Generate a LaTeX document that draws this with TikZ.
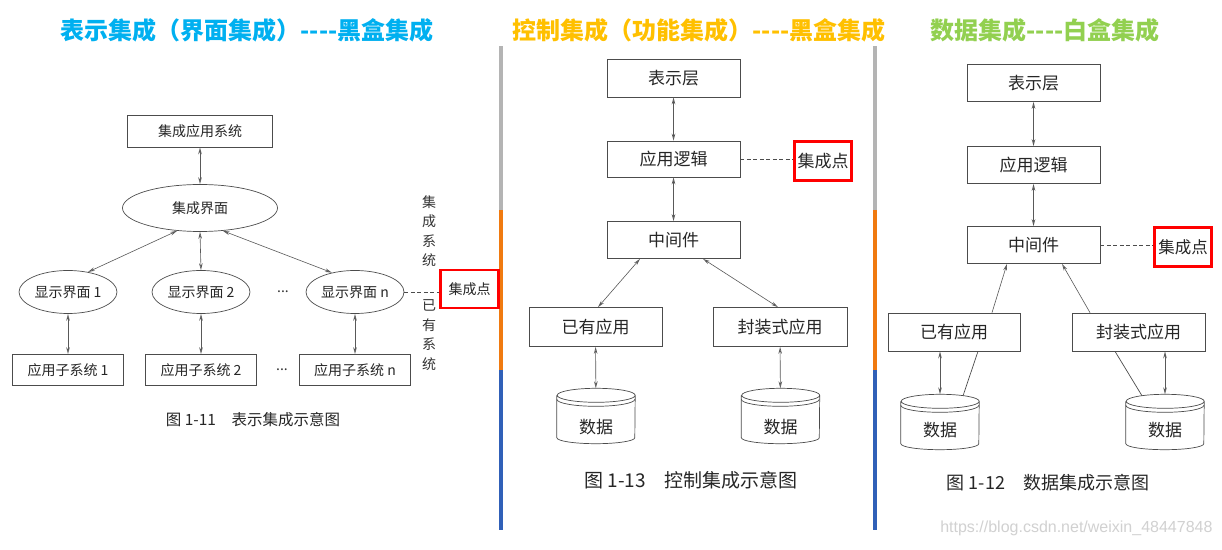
\documentclass[tikz,border=0pt]{standalone}
\usepackage{fontspec}
\newfontfamily\cjk{Noto Sans CJK SC}
\newfontfamily\wmfont{Liberation Sans}
\usetikzlibrary{positioning, arrows.meta, shapes.geometric}
\usepackage{xcolor}
\definecolor{titleblue}{HTML}{00B0F0}
\definecolor{titleorange}{HTML}{FFC000}
\definecolor{titlegreen}{HTML}{92D050}
\definecolor{bargray}{HTML}{B4B4B4}
\definecolor{barorange}{HTML}{F07A10}
\definecolor{barblue}{HTML}{3060B8}
\newcommand\setfs[1]{\fontsize{#1}{#1}\selectfont}

\begin{document}
\begin{tikzpicture}[x=1pt, y=1pt,
  line/.style={draw=black!70, line width=0.7pt},
  box/.style={line, minimum width=133pt, minimum height=37pt, inner sep=0pt, text=black!85, font=\cjk\setfs{17}},
  lbox/.style={box, minimum width=111pt, minimum height=31pt, font=\cjk\setfs{14}},
  ell/.style={line, ellipse, minimum width=98pt, minimum height=43pt, inner sep=0pt, text=black!85, font=\cjk\setfs{14}},
  redbox/.style={draw=red, line width=2.6pt, minimum width=57pt, minimum height=38pt, inner sep=0pt, text=black!85, font=\cjk\setfs{17}},
  dbbox/.style={minimum width=78pt, minimum height=55pt, inner sep=0pt},
  vtext/.style={align=center, text=black!80, font=\cjk\fontsize{14}{19.5}\selectfont},
  caption/.style={text=black!85, font=\cjk\setfs{18}},
  dots/.style={text=black!80, font=\cjk\setfs{14}},
  title/.style={font=\cjk\bfseries\setfs{24}},
  arr/.style={draw=black!65, line width=0.6pt, {Stealth[open,length=7pt,width=3.6pt]}-{Stealth[open,length=7pt,width=3.6pt]}},
  arrup/.style={draw=black!65, line width=0.6pt, -{Stealth[open,length=7pt,width=3.6pt]}},
  dashline/.style={draw=black!70, line width=0.7pt, dash pattern=on 4pt off 2.5pt}]

  \fill[white] (0,0) rectangle (1222,549);
  \useasboundingbox (0,0) rectangle (1222,549);

  % Titles
  \node[title, text=titleblue] (t1) at (247,519) {表示集成（界面集成）----黑盒集成};
  \node[title, text=titleorange] (t2) at (699,519) {控制集成（功能集成）----黑盒集成};
  \node[title, text=titlegreen] (t3) at (1045,519) {数据集成----白盒集成};

  % Separators
  \foreach \bx in {501,875} {
    \fill[bargray] (\bx-2,339) rectangle (\bx+2,503);
    \fill[barorange] (\bx-2,179) rectangle (\bx+2,339);
    \fill[barblue] (\bx-2,19) rectangle (\bx+2,179);
  }

  % Presentation integration
  \node[box, minimum width=145pt, minimum height=32pt, font=\cjk\setfs{14}] (app) at (200,418) {集成应用系统};
  \node[ell, minimum width=155pt, minimum height=47pt] (ui) at (200,341) {集成界面};
  \node[ell] (ui1) at (68,257) {显示界面 1};
  \node[ell] (ui2) at (201,257) {显示界面 2};
  \node[ell] (uin) at (355,257) {显示界面 n};
  \node[dots] (dots1) at (283,257) {...};
  \node[lbox] (sub1) at (68,179) {应用子系统 1};
  \node[lbox] (sub2) at (201,179) {应用子系统 2};
  \node[lbox] (subn) at (355,179) {应用子系统 n};
  \node[dots] (dots2) at (282,179) {...};
  \node[redbox, minimum width=58pt, font=\cjk\setfs{14}] (ip1) at (469.5,260) {集成点};
  \node[vtext] (vt1) at (429,318) {集\\成\\系\\统};
  \node[vtext] (vt2) at (429,214) {已\\有\\系\\统};
  \node[caption, font=\cjk\setfs{15.5}] (cap1) at (253,129) {图 1-11　表示集成示意图};

  \draw[arr] (app) -- (ui);
  \draw[arr] (ui.225) -- (ui1.45);
  \draw[arr] (ui.south) -- (ui2.north);
  \draw[arr] (ui.-45) -- (uin.140);
  \draw[arr] (ui1) -- (sub1);
  \draw[arr] (ui2) -- (sub2);
  \draw[arr] (uin) -- (subn);
  \draw[dashline] (uin.east) -- (uin.east -| ip1.west);

  % Control integration
  \node[box, minimum height=38pt] (pl2) at (673.5,471) {表示层};
  \node[box, minimum height=36pt] (al2) at (673.5,390) {应用逻辑};
  \node[box] (mw2) at (673.5,309) {中间件};
  \node[redbox, minimum height=39pt] (ip2) at (823,388) {集成点};
  \node[box, minimum height=39pt] (ea2) at (595.5,222) {已有应用};
  \node[box, minimum width=134pt, minimum height=39pt] (wa2) at (780,222) {封装式应用};
  \node[dbbox, label={[yshift=-11pt, text=black!85, font=\cjk\setfs{17}]center:数据}] (db2a) at (596,133) {};
  \node[dbbox, label={[yshift=-11pt, text=black!85, font=\cjk\setfs{17}]center:数据}] (db2b) at (780.5,133) {};
  \node[caption, font=\cjk\setfs{19}] (cap2) at (691,69) {图 1-13　控制集成示意图};

  \draw[arr] (pl2) -- (al2);
  \draw[arr] (al2) -- (mw2);
  \draw[arr] ([xshift=-33.5pt]mw2.south) -- ([xshift=2.5pt]ea2.north);
  \draw[arr] ([xshift=29.5pt]mw2.south) -- ([xshift=-2pt]wa2.north);
  \draw[arr] (ea2) -- (db2a);
  \draw[arr] (wa2) -- (db2b);
  \draw[dashline] (al2.east) -- (al2.east -| ip2.west);

  % Data integration
  \node[box] (pl3) at (1033.5,466) {表示层};
  \node[box] (al3) at (1033.5,384) {应用逻辑};
  \node[box] (mw3) at (1033.5,304) {中间件};
  \node[redbox, minimum height=39pt, font=\cjk\setfs{16.5}] (ip3) at (1183,302) {集成点};
  \node[box, minimum width=132pt, minimum height=38pt] (ea3) at (954,217) {已有应用};
  \node[box, minimum height=38pt] (wa3) at (1138.5,217) {封装式应用};
  \node[dbbox, label={[yshift=-8pt, text=black!85, font=\cjk\setfs{17}]center:数据}] (db3a) at (940,127) {};
  \node[dbbox, label={[yshift=-8pt, text=black!85, font=\cjk\setfs{17}]center:数据}] (db3b) at (1165,127) {};
  \node[caption] (cap3) at (1048,66) {图 1-12　数据集成示意图};

  \draw[arr] (pl3) -- (al3);
  \draw[arr] (al3) -- (mw3);
  \draw[arrup] ([xshift=38pt]ea3.north) -- ([xshift=-26.5pt]mw3.south);
  \draw[arrup] ([xshift=-48.5pt]wa3.north) -- ([xshift=28.5pt]mw3.south);
  \draw[arr] (db3a.north |- ea3.south) -- (db3a.north);
  \draw[arr] (db3b.north |- wa3.south) -- (db3b.north);
  \draw[line] ([xshift=24pt]ea3.south) -- ([xshift=23pt,yshift=-1.5pt]db3a.north);
  \draw[line] ([xshift=-23.5pt]wa3.south) -- ([xshift=-23pt,yshift=-1.5pt]db3b.north);
  \draw[dashline] (mw3.east) -- (mw3.east -| ip3.west);

  % Cylinders
  \foreach \d in {db2a,db2b,db3a,db3b} {
    \draw[line] ([yshift=-7pt]\d.north west) -- ([yshift=6pt]\d.south west)
      arc[start angle=180, end angle=360, x radius=39pt, y radius=6pt]
      -- ([yshift=-7pt]\d.north east)
      arc[start angle=0, end angle=360, x radius=39pt, y radius=7pt];
    \draw[line] ([yshift=-11pt]\d.north west) arc[start angle=180, end angle=360, x radius=39pt, y radius=7pt];
  }

  \node[anchor=east, text=black!18, font=\wmfont\setfs{16}] (wm) at (1216,21) {https://blog.csdn.net/weixin\_48447848};
\end{tikzpicture}
\end{document}
